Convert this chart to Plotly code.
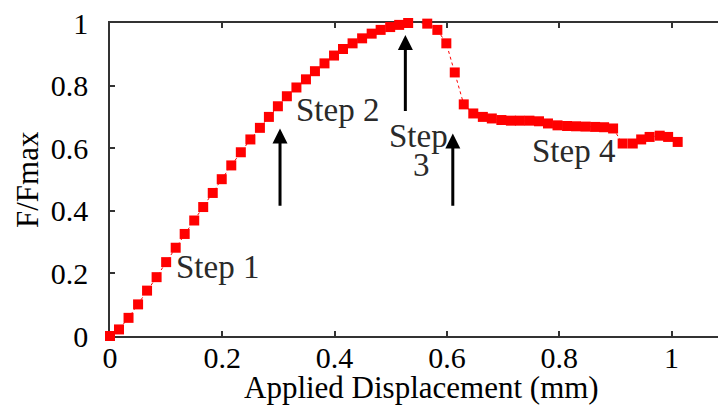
import plotly.graph_objects as go

# Data
disp = [0.000, 0.016, 0.033, 0.050, 0.066, 0.083, 0.100, 0.117, 0.133, 0.150,
        0.166, 0.183, 0.199, 0.216, 0.233, 0.250, 0.267, 0.283, 0.299, 0.315,
        0.332, 0.349, 0.365, 0.382, 0.399, 0.415, 0.432, 0.449, 0.466, 0.482,
        0.499, 0.515, 0.531, 0.548, 0.565, 0.583, 0.599, 0.614, 0.630, 0.647,
        0.664, 0.680, 0.697, 0.714, 0.730, 0.747, 0.764, 0.780, 0.797, 0.814,
        0.830, 0.847, 0.864, 0.880, 0.896, 0.913, 0.931, 0.946, 0.961, 0.979,
        0.994, 1.011]
force = [0.000, 0.021, 0.058, 0.101, 0.145, 0.188, 0.236, 0.282, 0.326, 0.369,
         0.412, 0.457, 0.501, 0.545, 0.587, 0.628, 0.665, 0.700, 0.734, 0.766,
         0.794, 0.820, 0.846, 0.871, 0.896, 0.917, 0.935, 0.951, 0.966, 0.978,
         0.987, 0.994, 1.000, 1.002, 0.998, 0.978, 0.935, 0.842, 0.740, 0.711,
         0.700, 0.695, 0.690, 0.688, 0.688, 0.688, 0.686, 0.679, 0.673, 0.671,
         0.670, 0.669, 0.668, 0.667, 0.663, 0.615, 0.615, 0.628, 0.636, 0.640,
         0.636, 0.620]

x_ticks = [0, 0.2, 0.4, 0.6, 0.8, 1]
x_ticklabels = ["0", "0.2", "0.4", "0.6", "0.8", "1"]
y_ticks = [0, 0.2, 0.4, 0.6, 0.8, 1]
y_ticklabels = ["0", "0.2", "0.4", "0.6", "0.8", "1"]

# "Step 3" is written on two lines in the reference ("Step" / "3")
step_labels = ["Step 1", "Step 2", "Step", "3", "Step 4"]
step_x = [0.1915, 0.4043, 0.5494, 0.554, 0.8255]
step_y = [0.219, 0.721, 0.640, 0.547, 0.592]

arrow_x = [0.3028, 0.526, 0.6105]
arrow_head_y = [0.663, 0.962, 0.647]
arrow_tail_y = [0.411, 0.714, 0.411]

FONT = "Liberation Serif"

L, R, T, B = 110, 0, 23, 69
W, H = 718, 405
pw, ph = W - L - R, H - T - B

fig = go.Figure()
fig.add_trace(go.Scatter(
    x=disp, y=force, mode="lines+markers",
    line=dict(color="#ff0000", width=1, dash="dot"),
    marker=dict(symbol="square", size=10, color="#ff0000", line=dict(width=0)),
    cliponaxis=False, showlegend=False,
))

annotations = []
for t, x, y in zip(step_labels, step_x, step_y):
    annotations.append(dict(x=x, y=y, xref="x", yref="y", text=t,
                            showarrow=False,
                            font=dict(family=FONT, size=33, color="#2a2a2a"),
                            xanchor="center", yanchor="middle"))
for x, yh, yt in zip(arrow_x, arrow_head_y, arrow_tail_y):
    annotations.append(dict(x=x, y=yh, xref="x", yref="y", ax=x, ay=yt,
                            axref="x", ayref="y", text="", showarrow=True,
                            arrowhead=2, arrowsize=1, arrowwidth=3,
                            arrowcolor="#000000", standoff=0))
annotations.append(dict(x=(421 - L) / pw, y=(H - B - 387) / ph, xref="paper", yref="paper",
                        text="Applied Displacement (mm)", showarrow=False,
                        font=dict(family=FONT, size=31, color="#000000"),
                        xanchor="center", yanchor="middle"))
annotations.append(dict(x=(27 - L) / pw, y=(H - B - 180) / ph, xref="paper", yref="paper",
                        text="F/Fmax", showarrow=False, textangle=-90,
                        font=dict(family=FONT, size=31, color="#000000"),
                        xanchor="center", yanchor="middle"))

fig.update_layout(
    width=W, height=H,
    margin=dict(l=L, r=R, t=T, b=B, pad=0),
    paper_bgcolor="white", plot_bgcolor="white",
    annotations=annotations,
    font=dict(family=FONT, size=30, color="#000000"),
    xaxis=dict(range=[0, pw / 561.5], tickvals=x_ticks, ticktext=x_ticklabels,
               showgrid=False, zeroline=False, showline=True, linecolor="#333333",
               linewidth=1.5, mirror="ticks", ticks="inside", ticklen=5,
               tickcolor="#333333", tickwidth=1.5, layer="below traces",
               ticklabelstandoff=-6,
               tickfont=dict(family=FONT, size=30, color="#000000")),
    yaxis=dict(range=[0, 1], tickvals=y_ticks, ticktext=y_ticklabels,
               showgrid=False, zeroline=False, showline=True, linecolor="#333333",
               linewidth=1.5, mirror=False, ticks="inside", ticklen=5,
               tickcolor="#333333", tickwidth=1.5, layer="below traces",
               ticklabelstandoff=14,
               tickfont=dict(family=FONT, size=30, color="#000000")),
)

fig.write_html("out.html")
